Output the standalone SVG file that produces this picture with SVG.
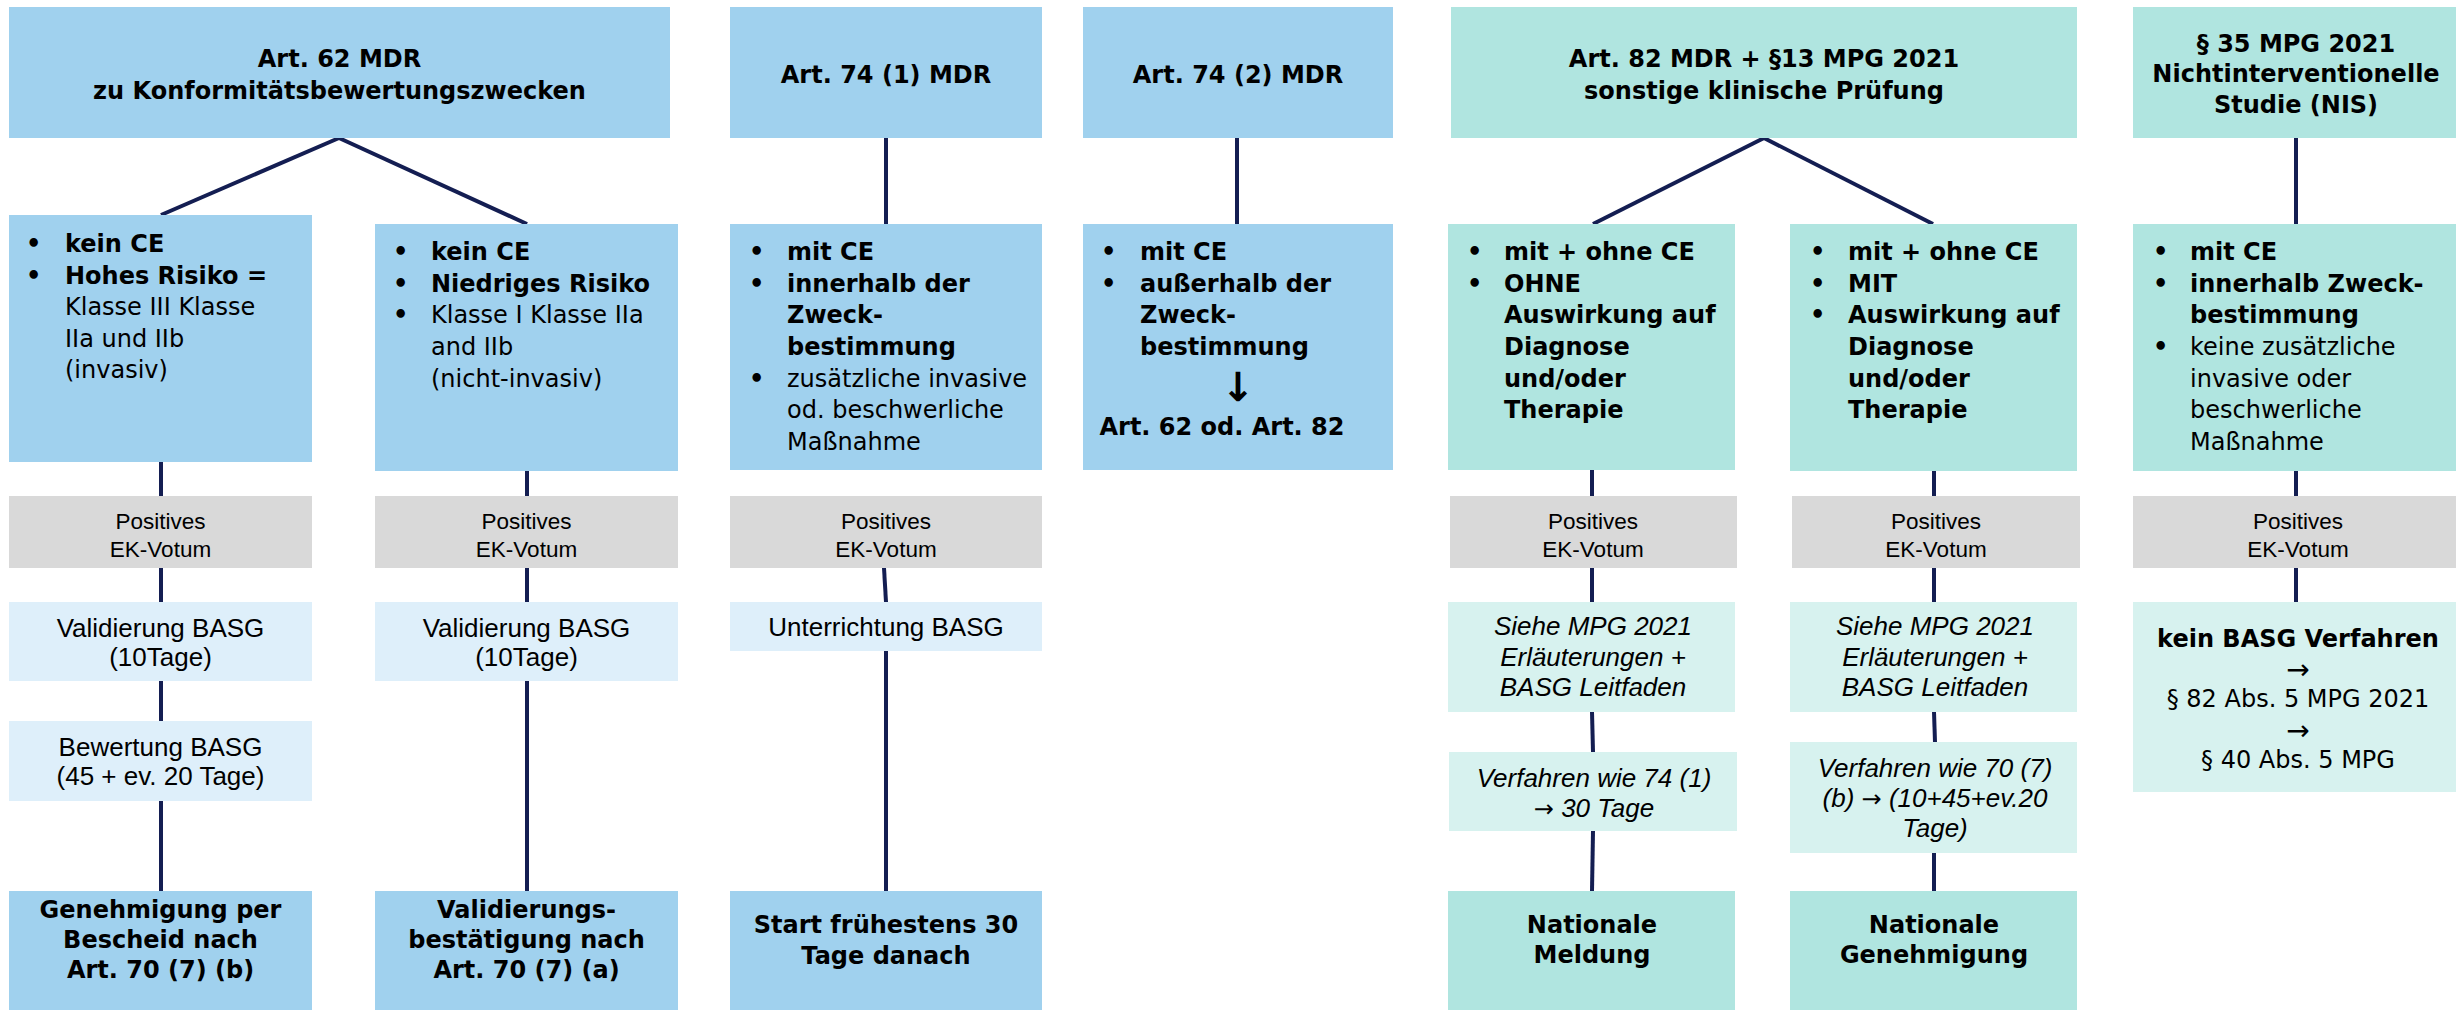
<svg xmlns="http://www.w3.org/2000/svg" width="2456" height="1010" viewBox="0 0 2456 1010">
<style>
.blue{fill:#A0D1EE}
.teal{fill:#B0E5E0}
.grey{fill:#D9D9D9}
.lblue{fill:#DEEFFA}
.lteal{fill:#D7F2EF}
text{fill:#000}
.vb{font-family:"DejaVu Sans",Verdana,sans-serif;font-weight:bold;font-size:24px}
.vr{font-family:"DejaVu Sans",Verdana,sans-serif;font-size:24px}
.ar{font-family:"Liberation Sans",Arial,sans-serif;font-size:26px}
.ai{font-family:"Liberation Sans",Arial,sans-serif;font-size:26px;font-style:italic}
.ag{font-family:"Liberation Sans",Arial,sans-serif;font-size:22.5px}
.arr{font-family:"DejaVu Sans",sans-serif;font-style:normal;font-size:28px}
.c{text-anchor:middle}
.conn line{stroke:#141E52;stroke-width:4;stroke-linecap:butt}
</style>
<rect width="2456" height="1010" fill="#FFFFFF"/>

<g class="conn" id="connectors">
<line x1="339" y1="138" x2="161" y2="215"/>
<line x1="339" y1="138" x2="527" y2="224"/>
<line x1="161" y1="462" x2="161" y2="496"/>
<line x1="161" y1="568" x2="161" y2="602"/>
<line x1="161" y1="681" x2="161" y2="721"/>
<line x1="161" y1="801" x2="161" y2="891"/>
<line x1="527" y1="471" x2="527" y2="496"/>
<line x1="527" y1="568" x2="527" y2="602"/>
<line x1="527" y1="681" x2="527" y2="891"/>
<line x1="886" y1="138" x2="886" y2="224"/>
<line x1="884" y1="568" x2="886" y2="602"/>
<line x1="886" y1="651" x2="886" y2="891"/>
<line x1="1237" y1="138" x2="1237" y2="224"/>
<line x1="1764" y1="138" x2="1593" y2="224"/>
<line x1="1764" y1="138" x2="1933" y2="224"/>
<line x1="1592" y1="470" x2="1592" y2="496"/>
<line x1="1592" y1="568" x2="1592" y2="602"/>
<line x1="1592" y1="712" x2="1593" y2="752"/>
<line x1="1593" y1="831" x2="1592" y2="891"/>
<line x1="1934" y1="471" x2="1934" y2="496"/>
<line x1="1934" y1="568" x2="1934" y2="602"/>
<line x1="1934" y1="712" x2="1935" y2="742"/>
<line x1="1934" y1="853" x2="1934" y2="891"/>
<line x1="2296" y1="138" x2="2296" y2="224"/>
<line x1="2296" y1="471" x2="2296" y2="496"/>
<line x1="2296" y1="568" x2="2296" y2="602"/>
</g>

<!-- Column 1: Art. 62 -->
<g id="art62">
<rect class="blue" x="9" y="7" width="661" height="131"/>
<text class="vb c" x="339.5" y="67">Art. 62 MDR</text>
<text class="vb c" x="339.5" y="99">zu Konformitätsbewertungszwecken</text>
</g>
<g id="art62-high">
<rect class="blue" x="9" y="215" width="303" height="247"/>
<text class="vb" x="26" y="252">•</text><text class="vb" x="65" y="252">kein CE</text>
<text class="vb" x="26" y="283.5">•</text><text class="vb" x="65" y="283.5">Hohes Risiko =</text>
<text class="vr" x="65" y="315">Klasse III Klasse</text>
<text class="vr" x="65" y="347">IIa und IIb</text>
<text class="vr" x="65" y="378">(invasiv)</text>
</g>
<g id="art62-low">
<rect class="blue" x="375" y="224" width="303" height="247"/>
<text class="vb" x="393" y="260">•</text><text class="vb" x="431" y="260">kein CE</text>
<text class="vb" x="393" y="292">•</text><text class="vb" x="431" y="292">Niedriges Risiko</text>
<text class="vb" x="393" y="323">•</text><text class="vr" x="431" y="323">Klasse I Klasse IIa</text>
<text class="vr" x="431" y="355">and IIb</text>
<text class="vr" x="431" y="387">(nicht-invasiv)</text>
</g>
<g id="ek1">
<rect class="grey" x="9" y="496" width="303" height="72"/>
<text class="ag c" x="160.5" y="529">Positives</text>
<text class="ag c" x="160.5" y="557">EK-Votum</text>
</g>
<g id="ek2">
<rect class="grey" x="375" y="496" width="303" height="72"/>
<text class="ag c" x="526.5" y="529">Positives</text>
<text class="ag c" x="526.5" y="557">EK-Votum</text>
</g>
<g id="val1">
<rect class="lblue" x="9" y="602" width="303" height="79"/>
<text class="ar c" x="160.5" y="637">Validierung BASG</text>
<text class="ar c" x="160.5" y="666">(10Tage)</text>
</g>
<g id="val2">
<rect class="lblue" x="375" y="602" width="303" height="79"/>
<text class="ar c" x="526.5" y="637">Validierung BASG</text>
<text class="ar c" x="526.5" y="666">(10Tage)</text>
</g>
<g id="bew1">
<rect class="lblue" x="9" y="721" width="303" height="80"/>
<text class="ar c" x="160.5" y="756">Bewertung BASG</text>
<text class="ar c" x="160.5" y="785">(45 + ev. 20 Tage)</text>
</g>
<g id="final1">
<rect class="blue" x="9" y="891" width="303" height="125"/>
<text class="vb c" x="160.5" y="918">Genehmigung per</text>
<text class="vb c" x="160.5" y="948">Bescheid nach</text>
<text class="vb c" x="160.5" y="978">Art. 70 (7) (b)</text>
</g>
<g id="final2">
<rect class="blue" x="375" y="891" width="303" height="125"/>
<text class="vb c" x="526.5" y="918">Validierungs-</text>
<text class="vb c" x="526.5" y="948">bestätigung nach</text>
<text class="vb c" x="526.5" y="978">Art. 70 (7) (a)</text>
</g>

<!-- Column 2: Art. 74 (1) -->
<g id="art741">
<rect class="blue" x="730" y="7" width="312" height="131"/>
<text class="vb c" x="886" y="83">Art. 74 (1) MDR</text>
</g>
<g id="art741-child">
<rect class="blue" x="730" y="224" width="312" height="246"/>
<text class="vb" x="749" y="260">•</text><text class="vb" x="787" y="260">mit CE</text>
<text class="vb" x="749" y="292">•</text><text class="vb" x="787" y="292">innerhalb der</text>
<text class="vb" x="787" y="323">Zweck-</text>
<text class="vb" x="787" y="355">bestimmung</text>
<text class="vb" x="749" y="387">•</text><text class="vr" x="787" y="387">zusätzliche invasive</text>
<text class="vr" x="787" y="418">od. beschwerliche</text>
<text class="vr" x="787" y="450">Maßnahme</text>
</g>
<g id="ek3">
<rect class="grey" x="730" y="496" width="312" height="72"/>
<text class="ag c" x="886" y="529">Positives</text>
<text class="ag c" x="886" y="557">EK-Votum</text>
</g>
<g id="unt">
<rect class="lblue" x="730" y="602" width="312" height="49"/>
<text class="ar c" x="886" y="636">Unterrichtung BASG</text>
</g>
<g id="final3">
<rect class="blue" x="730" y="891" width="312" height="125"/>
<text class="vb c" x="886" y="933">Start frühestens 30</text>
<text class="vb c" x="886" y="964">Tage danach</text>
</g>

<!-- Column 3: Art. 74 (2) -->
<g id="art742">
<rect class="blue" x="1083" y="7" width="310" height="131"/>
<text class="vb c" x="1238" y="83">Art. 74 (2) MDR</text>
</g>
<g id="art742-child">
<rect class="blue" x="1083" y="224" width="310" height="246"/>
<text class="vb" x="1101" y="260">•</text><text class="vb" x="1140" y="260">mit CE</text>
<text class="vb" x="1101" y="292">•</text><text class="vb" x="1140" y="292">außerhalb der</text>
<text class="vb" x="1140" y="323">Zweck-</text>
<text class="vb" x="1140" y="355">bestimmung</text>
<text class="vb c" x="1238" y="401" style="font-size:40px">↓</text>
<text class="vb c" x="1222" y="435">Art. 62 od. Art. 82</text>
</g>

<!-- Column 4/5: Art. 82 -->
<g id="art82">
<rect class="teal" x="1451" y="7" width="626" height="131"/>
<text class="vb c" x="1764" y="67">Art. 82 MDR + §13 MPG 2021</text>
<text class="vb c" x="1764" y="99">sonstige klinische Prüfung</text>
</g>
<g id="art82-ohne">
<rect class="teal" x="1448" y="224" width="287" height="246"/>
<text class="vb" x="1467" y="260">•</text><text class="vb" x="1504" y="260">mit + ohne CE</text>
<text class="vb" x="1467" y="292">•</text><text class="vb" x="1504" y="292">OHNE</text>
<text class="vb" x="1504" y="323">Auswirkung auf</text>
<text class="vb" x="1504" y="355">Diagnose</text>
<text class="vb" x="1504" y="387">und/oder</text>
<text class="vb" x="1504" y="418">Therapie</text>
</g>
<g id="art82-mit">
<rect class="teal" x="1790" y="224" width="287" height="247"/>
<text class="vb" x="1810" y="260">•</text><text class="vb" x="1848" y="260">mit + ohne CE</text>
<text class="vb" x="1810" y="292">•</text><text class="vb" x="1848" y="292">MIT</text>
<text class="vb" x="1810" y="323">•</text><text class="vb" x="1848" y="323">Auswirkung auf</text>
<text class="vb" x="1848" y="355">Diagnose</text>
<text class="vb" x="1848" y="387">und/oder</text>
<text class="vb" x="1848" y="418">Therapie</text>
</g>
<g id="ek4">
<rect class="grey" x="1450" y="496" width="287" height="72"/>
<text class="ag c" x="1593" y="529">Positives</text>
<text class="ag c" x="1593" y="557">EK-Votum</text>
</g>
<g id="ek5">
<rect class="grey" x="1792" y="496" width="288" height="72"/>
<text class="ag c" x="1936" y="529">Positives</text>
<text class="ag c" x="1936" y="557">EK-Votum</text>
</g>
<g id="siehe1">
<rect class="lteal" x="1448" y="602" width="287" height="110"/>
<text class="ai c" x="1593" y="635">Siehe MPG 2021</text>
<text class="ai c" x="1593" y="666">Erläuterungen +</text>
<text class="ai c" x="1593" y="696">BASG Leitfaden</text>
</g>
<g id="siehe2">
<rect class="lteal" x="1790" y="602" width="287" height="110"/>
<text class="ai c" x="1935" y="635">Siehe MPG 2021</text>
<text class="ai c" x="1935" y="666">Erläuterungen +</text>
<text class="ai c" x="1935" y="696">BASG Leitfaden</text>
</g>
<g id="verf1">
<rect class="lteal" x="1449" y="752" width="288" height="79"/>
<text class="ai c" x="1594" y="787">Verfahren wie 74 (1)</text>
<text class="ai c" x="1594" y="817"><tspan class="arr" style="font-size:24px">→</tspan> 30 Tage</text>
</g>
<g id="verf2">
<rect class="lteal" x="1790" y="742" width="287" height="111"/>
<text class="ai c" x="1935" y="777">Verfahren wie 70 (7)</text>
<text class="ai c" x="1935" y="807">(b) <tspan class="arr" style="font-size:24px">→</tspan>  (10+45+ev.20</text>
<text class="ai c" x="1935" y="837">Tage)</text>
</g>
<g id="final4">
<rect class="teal" x="1448" y="891" width="287" height="125"/>
<text class="vb c" x="1592" y="933">Nationale</text>
<text class="vb c" x="1592" y="963">Meldung</text>
</g>
<g id="final5">
<rect class="teal" x="1790" y="891" width="287" height="125"/>
<text class="vb c" x="1934" y="933">Nationale</text>
<text class="vb c" x="1934" y="963">Genehmigung</text>
</g>

<!-- Column 6: § 35 -->
<g id="p35">
<rect class="teal" x="2133" y="7" width="323" height="131"/>
<text class="vb c" x="2296" y="52">§ 35 MPG 2021</text>
<text class="vb c" x="2296" y="82">Nichtinterventionelle</text>
<text class="vb c" x="2296" y="113">Studie (NIS)</text>
</g>
<g id="p35-child">
<rect class="teal" x="2133" y="224" width="323" height="247"/>
<text class="vb" x="2153" y="260">•</text><text class="vb" x="2190" y="260">mit CE</text>
<text class="vb" x="2153" y="292">•</text><text class="vb" x="2190" y="292">innerhalb Zweck-</text>
<text class="vb" x="2190" y="323">bestimmung</text>
<text class="vb" x="2153" y="355">•</text><text class="vr" x="2190" y="355">keine zusätzliche</text>
<text class="vr" x="2190" y="387">invasive oder</text>
<text class="vr" x="2190" y="418">beschwerliche</text>
<text class="vr" x="2190" y="450">Maßnahme</text>
</g>
<g id="ek6">
<rect class="grey" x="2133" y="496" width="323" height="72"/>
<text class="ag c" x="2298" y="529">Positives</text>
<text class="ag c" x="2298" y="557">EK-Votum</text>
</g>
<g id="kein-basg">
<rect class="lteal" x="2133" y="602" width="323" height="190"/>
<text class="vb c" x="2298" y="647">kein BASG Verfahren</text>
<text class="arr c" x="2298" y="679">→</text>
<text class="vr c" x="2298" y="707">§ 82 Abs. 5 MPG 2021</text>
<text class="arr c" x="2298" y="740">→</text>
<text class="vr c" x="2298" y="768">§ 40 Abs. 5 MPG</text>
</g>
</svg>
